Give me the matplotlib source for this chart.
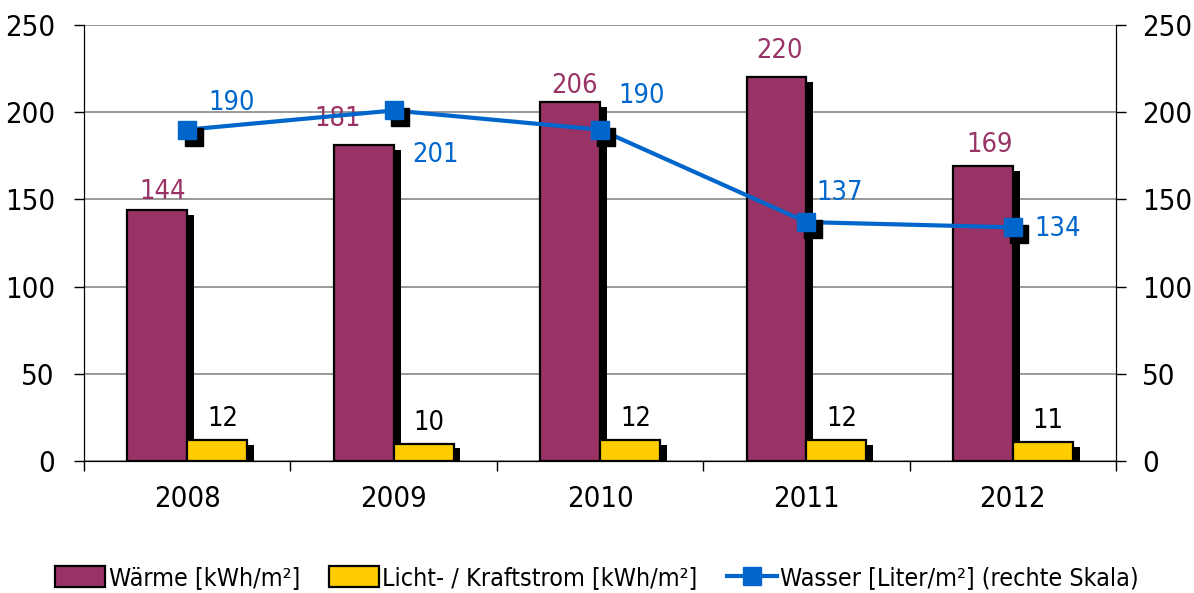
import numpy as np
import matplotlib
matplotlib.use("Agg")
import matplotlib.pyplot as plt
import matplotlib.patheffects as pe
import matplotlib.transforms as mtransforms
from matplotlib.patches import Patch
from matplotlib.lines import Line2D

plt.rcParams['font.family'] = ['DejaVu Sans']
plt.rcParams['font.stretch'] = 'condensed'

years = ['2008', '2009', '2010', '2011', '2012']
waerme = [144, 181, 206, 220, 169]
strom = [12, 10, 12, 12, 11]
wasser = [190, 201, 190, 137, 134]

# label offsets in points (labels were hand placed in the original)
waerme_off = [(4, 8), (-19, 14), (3, 6), (2, 14), (5, 10)]
wasser_off = [(32, 19), (30, -32), (30, 24), (24, 21), (32, -1)]

c_waerme = '#993366'
c_strom = '#FFCC00'
c_wasser = '#0066CC'

fig = plt.figure(figsize=(11.94, 5.93), dpi=100)
ax = fig.add_axes([0.0704, 0.2226, 0.8643, 0.7352])
ax2 = ax.twinx()

x = np.arange(len(years))
w = 0.29
shadow = [pe.SimplePatchShadow(offset=(5, -3.5), shadow_rgbFace='black', alpha=1), pe.Normal()]

b1 = ax.bar(x - w / 2, waerme, w, color=c_waerme, edgecolor='black', linewidth=1.6, zorder=3)
b2 = ax.bar(x + w / 2, strom, w, color=c_strom, edgecolor='black', linewidth=1.6, zorder=3)
for b in list(b1) + list(b2):
    b.set_path_effects(shadow)

for xi, v, off in zip(x, waerme, waerme_off):
    ax.annotate(str(v), (xi - w / 2, v), xytext=off, textcoords='offset points',
                ha='center', va='baseline', fontsize=19.5, color=c_waerme, zorder=5)
for xi, v in zip(x, strom):
    ax.annotate(str(v), (xi + w / 2, v), xytext=(4, 10), textcoords='offset points',
                ha='center', va='baseline', fontsize=19.5, color='black', zorder=5)

ax2.plot(x, wasser, color=c_wasser, linewidth=3, zorder=4)
sh = ax2.transData + mtransforms.ScaledTranslation(4.5 / 72, -5 / 72, fig.dpi_scale_trans)
ax2.plot(x, wasser, 's', color='black', markersize=12.5, zorder=4, transform=sh)
ax2.plot(x, wasser, 's', color=c_wasser, markersize=12.5, zorder=5)
for xi, v, off in zip(x, wasser, wasser_off):
    ax2.annotate(str(v), (xi, v), xytext=off, textcoords='offset points',
                 ha='center', va='center', fontsize=19.5, color=c_wasser, zorder=6)

for a in (ax, ax2):
    a.set_ylim(0, 250)
    a.set_yticks(np.arange(0, 251, 50))
    a.spines['top'].set_visible(False)
ax.tick_params(axis='y', labelsize=21, length=7, width=1, pad=14)
ax2.tick_params(axis='y', labelsize=21, length=7, width=1, pad=12)
ax.set_xlim(-0.5, len(years) - 0.5)
ax.set_xticks(np.arange(-0.5, len(years), 1))
ax.set_xticklabels([])
ax.set_xticks(x, minor=True)
ax.set_xticklabels(years, minor=True)
ax.tick_params(axis='x', which='major', length=7, width=1)
ax.tick_params(axis='x', which='minor', length=0, labelsize=21, pad=17)
ax.yaxis.grid(True, color='#888888', linewidth=1.2, zorder=0)
ax.set_axisbelow(True)

handles = [
    Patch(facecolor=c_waerme, edgecolor='black', linewidth=1.6, label='Wärme [kWh/m²]'),
    Patch(facecolor=c_strom, edgecolor='black', linewidth=1.6, label='Licht- / Kraftstrom [kWh/m²]'),
    Line2D([0], [0], color=c_wasser, linewidth=3, marker='s', markersize=12.5,
           label='Wasser [Liter/m²] (rechte Skala)'),
]
fig.legend(handles=handles, loc='center', bbox_to_anchor=(0.5, 0.025), ncol=3, frameon=False,
           fontsize=18, handlelength=2.0, handleheight=0.88, handletextpad=0.15,
           columnspacing=1.15)

fig.savefig('out.png', dpi=100)
